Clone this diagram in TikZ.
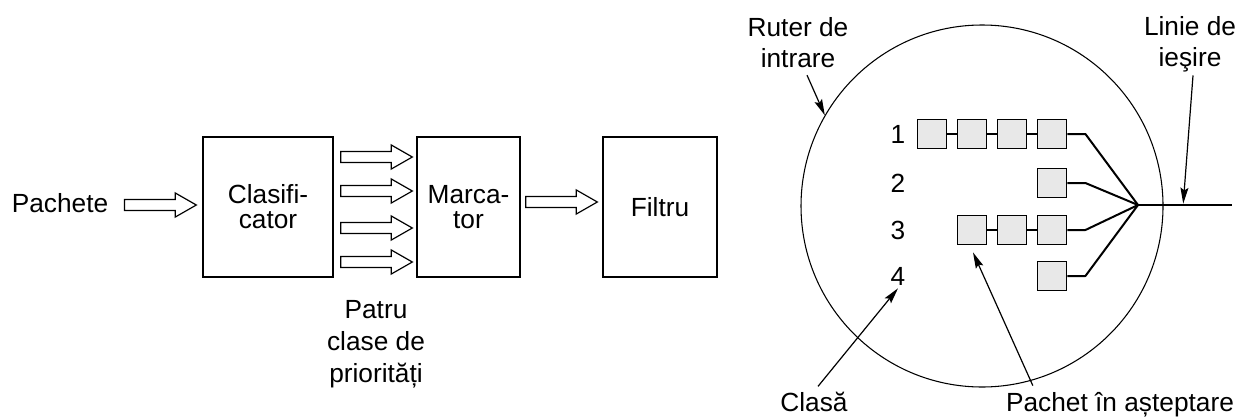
\documentclass[tikz,border=0pt]{standalone}
\usepackage{fontspec}
\setmainfont{Liberation Sans}[Ligatures=NoCommon]
\usetikzlibrary{calc,arrows.meta}
\tikzset{>={Stealth[length=12pt,width=6pt,inset=2pt]}}

% block arrow drawn as an outline, horizontal from #1 to #2
\newcommand{\fatarrow}[2]{%
  \draw[hollow] let \p1=#1, \p2=#2 in
    (\x1,\y1+4.1pt) -- (\x2-15.75pt,\y1+4.1pt) -- (\x2-15.75pt,\y1+9pt) -- (\x2,\y1)
    -- (\x2-15.75pt,\y1-9pt) -- (\x2-15.75pt,\y1-4.1pt) -- (\x1,\y1-4.1pt) -- cycle;}

\begin{document}
\begin{tikzpicture}[x=0.75pt, y=-0.75pt,
  txt/.style={font=\fontsize{19.7}{23.5}\selectfont, inner sep=0pt},
  block/.style={draw, line width=1pt, align=center, minimum height=105pt,
    font=\fontsize{19.7}{18.75}\selectfont},
  hollow/.style={draw, line width=0.9pt, fill=white},
  qbox/.style={draw, line width=1.1pt, fill=gray!18, minimum size=22pt, inner sep=0pt},
  feed/.style={line width=1.5pt},
  pointer/.style={->, line width=0.9pt}]
\useasboundingbox (0,0) rectangle (1248,418);

% classifier, marker, filter
\node[txt, anchor=base] (pachete) at (60,212) {Pachete};
\node[block, minimum width=97.5pt] (clas) at (268,207) {Clasifi-\\cator};
\node[block, minimum width=77.25pt] (marc) at (468.5,207) {Marca-\\tor};
\node[block, minimum width=85.5pt] (filtru) at (660,207) {Filtru};
\node[txt, align=center, anchor=north, font=\fontsize{19.7}{24}\selectfont] (patru) at (376,300) {Patru\\clase de\\priorități};

\fatarrow{($(pachete.east |- 0,205)+(16,0)$)}{($(clas.west |- 0,205)+(-6,0)$)}
\foreach \yy in {157,191,228,262}{
  \fatarrow{($(clas.east |- 0,\yy)+(7,0)$)}{($(marc.west |- 0,\yy)+(-4,0)$)}
}
\fatarrow{($(marc.east |- 0,202)+(5,0)$)}{($(filtru.west |- 0,202)+(-5,0)$)}

% ingress router with its four queues
\node[draw, circle, line width=0.8pt, minimum size=271.5pt, inner sep=0pt] (router) at (982,206) {};
\coordinate (merge) at (1138,205);
\coordinate (exit) at (1232,205);

\foreach \row/\y/\first in {1/134/1, 2/183/4, 3/230/2, 4/276/4}{
  \node[txt] (lbl\row) at (898,\y) {\row};
  \foreach \col in {\first,...,4}{
    \node[qbox] (q\row\col) at (892+40*\col,\y) {};
    \ifnum\col>\first
      \pgfmathtruncatemacro{\prev}{\col-1}
      \draw[feed] (q\row\prev.east) -- (q\row\col.west);
    \fi
  }
  \draw[feed, line join=round] (q\row4.east) -- ++(18,0) -- (merge);
}
\draw[feed] (merge) -- (exit);

% labels and pointers
\node[txt, align=center, anchor=north] (ruter) at (798,17) {Ruter de\\intrare};
\node[txt, align=center, anchor=north] (linie) at (1190,16) {Linie de\\ieşire};
\node[txt, anchor=base] (clasa) at (814,411) {Clasă};
\node[txt, anchor=base] (pachet) at (1120,411) {Pachet în așteptare};

\draw[pointer] ($(ruter.south)+(9,7)$) -- (router.150);
\draw[pointer, shorten >=1pt] ($(linie.south)+(3,3)$) -- ($(merge)!0.48!(exit)$);
\draw[pointer] ($(clasa.north)+(4,-5)$) -- ($(lbl4.south)+(0,3)$);
\draw[pointer] ($(pachet.north west)+(27,-6)$) -- ($(q32.south)+(1,7)$);
\end{tikzpicture}
\end{document}
